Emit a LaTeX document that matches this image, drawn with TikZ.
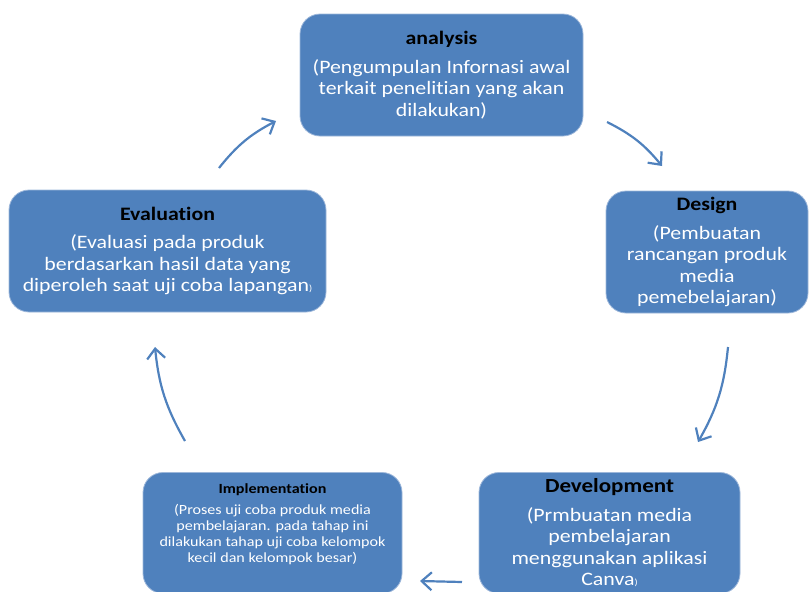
\documentclass[tikz,border=0pt]{standalone}
\usepackage{fontspec}
\setmainfont{Carlito}[FakeStretch=1.15, Ligatures=NoCommon]
\usetikzlibrary{arrows.meta,positioning,calc}
\usepackage{xcolor}
\definecolor{stageblue}{HTML}{4F81BD}
\definecolor{stageline}{HTML}{9DB7DA}
\tikzset{
  stagebox/.style={draw=stageline, line width=0.8pt, rounded corners=20pt, fill=stageblue, align=center, text=white, inner sep=3pt, font=\fontsize{19}{21.5}\selectfont},
  smallbox/.style={stagebox, font=\fontsize{14}{16}\selectfont},
  flow/.style={-{Straight Barb[length=10pt,width=18pt]}, line width=2.2pt, draw=stageblue}
}
\newcommand{\stagetitle}[1]{{\color{black}\bfseries #1}}

\begin{document}
\begin{tikzpicture}[x=1pt, y=-1pt]
  \useasboundingbox (0,0) rectangle (809,592);
  \clip (0,0) rectangle (809,592);
  % stages
  \node[stagebox, minimum width=283pt, minimum height=122pt] (analysis) at (441.5,75) {\stagetitle{analysis}\\[7pt](Pengumpulan Infornasi awal\\terkait penelitian yang akan\\dilakukan)};
  \node[stagebox, minimum width=202pt, minimum height=122pt] (design) at (707,252) {\stagetitle{Design}\\[7pt](Pembuatan\\rancangan produk\\media\\pemebelajaran)};
  \node[stagebox, minimum width=261pt, minimum height=121pt] (development) at (609.5,533) {{\fontsize{20}{21}\selectfont\stagetitle{Development}}\\[7pt](Prmbuatan media\\pembelajaran\\menggunakan aplikasi\\Canva{\small)}};
  \node[smallbox, minimum width=259pt, minimum height=121pt] (implementation) at (272.5,533) {\stagetitle{Implementation}\\[5pt](Proses uji coba produk media\\pembelajaran. pada tahap ini\\dilakukan tahap uji coba kelompok\\kecil dan kelompok besar)\\[4pt]~};
  \node[stagebox, minimum width=317pt, minimum height=122pt] (evaluation) at (167.5,251) {\stagetitle{Evaluation}\\[7pt](Evaluasi pada produk\\berdasarkan hasil data yang\\diperoleh saat uji coba lapangan{\small)}};
  % arrow ends
  \coordinate (a1) at (607,122);  \coordinate (a2) at (662,166);
  \coordinate (d1) at (728,347);  \coordinate (d2) at (698,442);
  \coordinate (v1) at (462,582);  \coordinate (v2) at (420,581);
  \coordinate (i1) at (185,441);  \coordinate (i2) at (155,347);
  \coordinate (e1) at (219,168);  \coordinate (e2) at (276,121);
  \draw[flow] (a1) to[bend left=12] (a2);
  \draw[flow] (d1) to[bend left=12] (d2);
  \draw[flow] (v1) -- (v2);
  \draw[flow] (i1) to[bend left=12] (i2);
  \draw[flow] (e1) to[bend left=12] (e2);
\end{tikzpicture}
\end{document}
